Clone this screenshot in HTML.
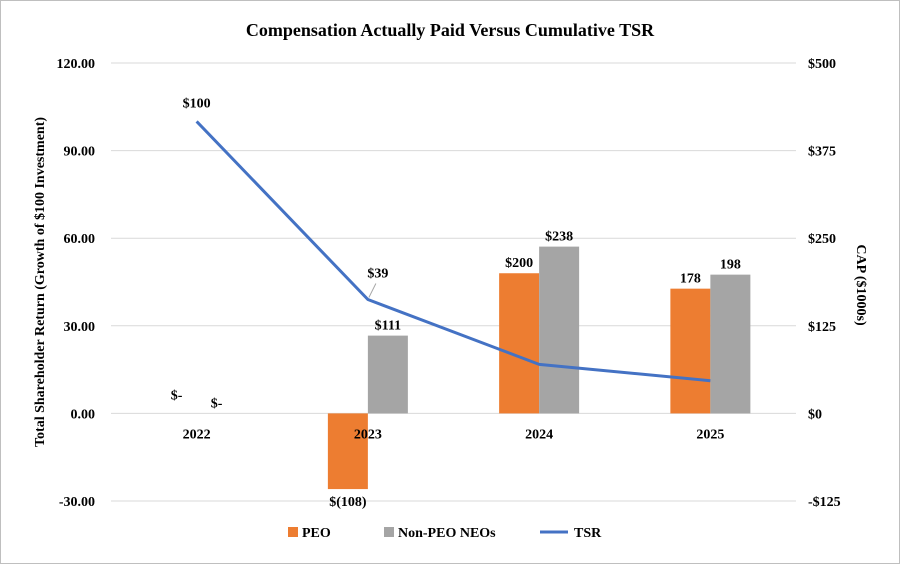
<!DOCTYPE html>
<html><head><meta charset="utf-8"><style>
html,body{margin:0;padding:0;background:#fff}
svg{display:block}
text{font-family:"Liberation Serif",serif;font-weight:bold;fill:#000}
</style></head><body>
<svg id="chart" width="900" height="564" viewBox="0 0 900 564">
<rect x="0.5" y="0.5" width="899" height="563" fill="#fff" stroke="#bfbfbf"/>
<text x="450" y="36" text-anchor="middle" font-size="18">Compensation Actually Paid Versus Cumulative TSR</text>
<g id="grid"></g><g id="bars"></g><g id="line"></g><g id="labels"></g><g id="axes"></g>
<text transform="translate(44,282) rotate(-90)" text-anchor="middle" font-size="14">Total Shareholder Return (Growth of $100 Investment)</text>
<text transform="translate(857,285) rotate(90)" text-anchor="middle" font-size="14">CAP ($1000s)</text>
<g>
<rect x="288" y="527" width="10" height="10" fill="#ed7d31"/>
<text x="302" y="537" font-size="14">PEO</text>
<rect x="384" y="527" width="10" height="10" fill="#a5a5a5"/>
<text x="398" y="537" font-size="14">Non-PEO NEOs</text>
<line x1="540" y1="532" x2="568" y2="532" stroke="#4472c4" stroke-width="3"/>
<text x="574" y="537" font-size="14">TSR</text>
</g>
</svg>
<script>
const categories=["2022","2023","2024","2025"];
const tsr=[100,39,16.8,11.2];
const peo=[0,-108,200,178];
const neo=[0,111,238,198];
const peoLabels=["$-","$(108)","$200","178"];
const neoLabels=["$-","$111","$238","198"];
const tsrLabels=["$100","$39","",""];
const leftTicks=[120,90,60,30,0,-30];
const leftTickLabels=["120.00","90.00","60.00","30.00","0.00","-30.00"];
const rightTicks=[500,375,250,125,0,-125];
const rightTickLabels=["$500","$375","$250","$125","$0","-$125"];

const NS="http://www.w3.org/2000/svg";
const x0=111,x1=796,yTop=63,yBot=501;
const yL=v=>yTop+(120-v)*(yBot-yTop)/150;
const yR=v=>yTop+(500-v)*(yBot-yTop)/625;
const band=(x1-x0)/categories.length;
const xC=i=>x0+band*(i+0.5);
const bw=40;
function mk(tag,attrs,parent,txt){const e=document.createElementNS(NS,tag);for(const k in attrs)e.setAttribute(k,attrs[k]);if(txt!==undefined)e.textContent=txt;document.getElementById(parent).appendChild(e);return e;}

leftTicks.forEach((t,i)=>{
 const g=mk("line",{x1:x0,x2:x1,y1:yL(t),y2:yL(t),stroke:"#d9d9d9","stroke-width":1},"grid");
 
 
 const l=mk("text",{x:95,y:yL(t)+5,"text-anchor":"end","font-size":14},"axes",leftTickLabels[i]);
 
 
});
rightTicks.forEach((t,i)=>{
 const l=mk("text",{x:808,y:yR(t)+5,"text-anchor":"start","font-size":14},"axes",rightTickLabels[i]);
 
 
});
categories.forEach((c,i)=>{
 const l=mk("text",{x:xC(i),y:yL(0)+25,"text-anchor":"middle","font-size":14},"axes",c);
 
 
 const drawBar=(v,x,col,nm)=>{
  const y=Math.min(yR(v),yR(0)),h=Math.abs(yR(v)-yR(0));
  const b=mk("rect",{x:x,y:y,width:bw,height:h,fill:col},"bars");
  
  
 };
 drawBar(peo[i],xC(i)-bw,"#ed7d31","bar-peo-"+c);
 drawBar(neo[i],xC(i),"#a5a5a5","bar-neo-"+c);
 const lab=(v,x,s,nm,dy)=>{
  const y=v<0?yR(v)+17:yR(v)-6+dy;
  const t=mk("text",{x:x,y:y,"text-anchor":"middle","font-size":14},"labels",s);
  
  
 };
 lab(peo[i],xC(i)-bw/2,peoLabels[i],"label-peo-"+c,peo[i]===0?-8:0);
 lab(neo[i],xC(i)+bw/2,neoLabels[i],"label-neo-"+c,0);
});
const pts=tsr.map((v,i)=>xC(i)+","+yL(v)).join(" ");
const pl=mk("polyline",{points:pts,fill:"none",stroke:"#4472c4","stroke-width":3,"stroke-linejoin":"round"},"line");


tsr.forEach((v,i)=>{
 if(!tsrLabels[i])return;
 let x=xC(i),y=yL(v)-14;
 if(i===1){x=xC(i)+10;y=yL(v)-22;
  const ld=mk("line",{x1:xC(i)+1,y1:yL(v)-2,x2:xC(i)+8,y2:yL(v)-16,stroke:"#a6a6a6","stroke-width":1},"labels");
  
  
 }
 const t=mk("text",{x:x,y:y,"text-anchor":"middle","font-size":14},"labels",tsrLabels[i]);
 
 
});
</script>
</body></html>
